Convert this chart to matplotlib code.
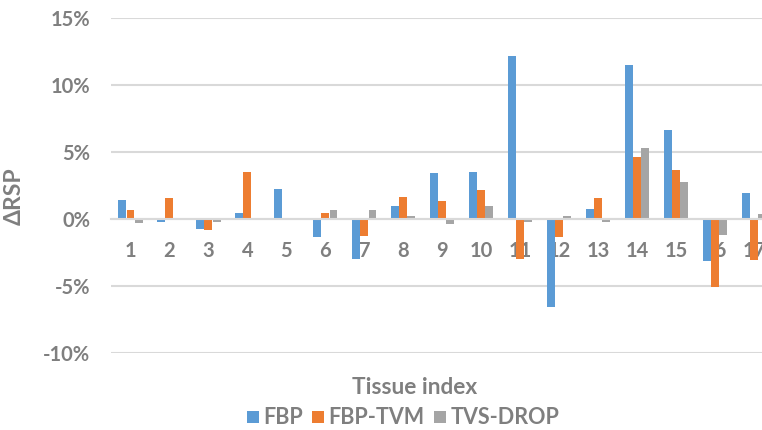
import matplotlib
matplotlib.use("Agg")
import matplotlib.pyplot as plt
from matplotlib.lines import Line2D
import numpy as np

plt.rcParams['font.family'] = ['Lato', 'DejaVu Sans']

categories = [str(i) for i in range(1, 18)]
series_names = ["FBP", "FBP-TVM", "TVS-DROP"]
fbp = [1.44, -0.2, -0.75, 0.42, 2.21, -1.34, -2.99, 0.97, 3.41, 3.48, 12.2, -6.59, 0.77, 11.47, 6.62, -3.11, 1.92]
fbp_tvm = [0.70, 1.54, -0.82, 3.48, 0.0, 0.42, -1.27, 1.67, 1.37, 2.14, -2.99, -1.34, 1.59, 4.6, 3.63, -5.10, -3.06]
tvs_drop = [-0.27, 0.0, -0.25, 0.0, 0.0, 0.65, 0.65, 0.25, -0.37, 0.97, -0.25, 0.22, -0.2, 5.27, 2.74, -1.22, 0.37]
yticks = [-10, -5, 0, 5, 10, 15]

colors = ["#5B9BD5", "#ED7D31", "#A5A5A5"]
text_color = "#7F7F7F"
grid_color = "#D9D9D9"

W, H = 762, 430
fig = plt.figure(figsize=(W / 100, H / 100), dpi=100)
left, right, top, bottom = 111, 773.5, 18, 353
ax = fig.add_axes([left / W, 1 - bottom / H, (right - left) / W, (bottom - top) / H])

x = np.arange(1, len(categories) + 1)
bw = 0.21
for i, (vals, c) in enumerate(zip([fbp, fbp_tvm, tvs_drop], colors)):
    ax.bar(x + (i - 1) * bw, vals, width=bw * 0.97, color=c, linewidth=0, zorder=2)

ax.set_xlim(0.5, 17.5)
ax.set_ylim(-10, 15)
ax.set_yticks(yticks)
ax.set_yticklabels([f"{v}%" for v in yticks])
ax.set_xticks(x)
ax.set_xticklabels(categories)

ax.grid(axis='y', color=grid_color, linewidth=1.5)
ax.set_axisbelow(True)
for s in ['top', 'right', 'left']:
    ax.spines[s].set_visible(False)
ax.spines['bottom'].set_position(('data', 0))
ax.spines['bottom'].set_color(grid_color)
ax.spines['bottom'].set_linewidth(1.5)
ax.spines['bottom'].set_zorder(3)

ax.tick_params(axis='y', length=0, pad=15, labelsize=14.5, labelcolor=text_color)
ax.tick_params(axis='x', length=0, pad=16, labelsize=14.5, labelcolor=text_color)
for lab in ax.get_xticklabels() + ax.get_yticklabels():
    lab.set_fontweight('bold')

ax.set_ylabel("ΔRSP", fontsize=16.5, color=text_color, fontweight='bold')
ax.yaxis.set_label_coords((25 - left) / (right - left), (bottom - 196) / (bottom - top))
ax.set_xlabel("Tissue index", fontsize=16.3, color=text_color, fontweight='bold', va='center')
ax.xaxis.set_label_coords((415 - left) / (right - left), (bottom - 387) / (bottom - top))

handles = [Line2D([], [], marker='s', linestyle='none', markersize=8.5,
                  markerfacecolor=c, markeredgewidth=0) for c in colors]
leg = fig.legend(handles, series_names, loc='center', bbox_to_anchor=(403 / W, 1 - 418 / H),
                 ncol=3, frameon=False, handlelength=0.55, handletextpad=0.2,
                 columnspacing=0.45, borderpad=0, prop={'size': 15.5, 'weight': 'bold'})
for t in leg.get_texts():
    t.set_color(text_color)

fig.savefig("out.png", dpi=100)
